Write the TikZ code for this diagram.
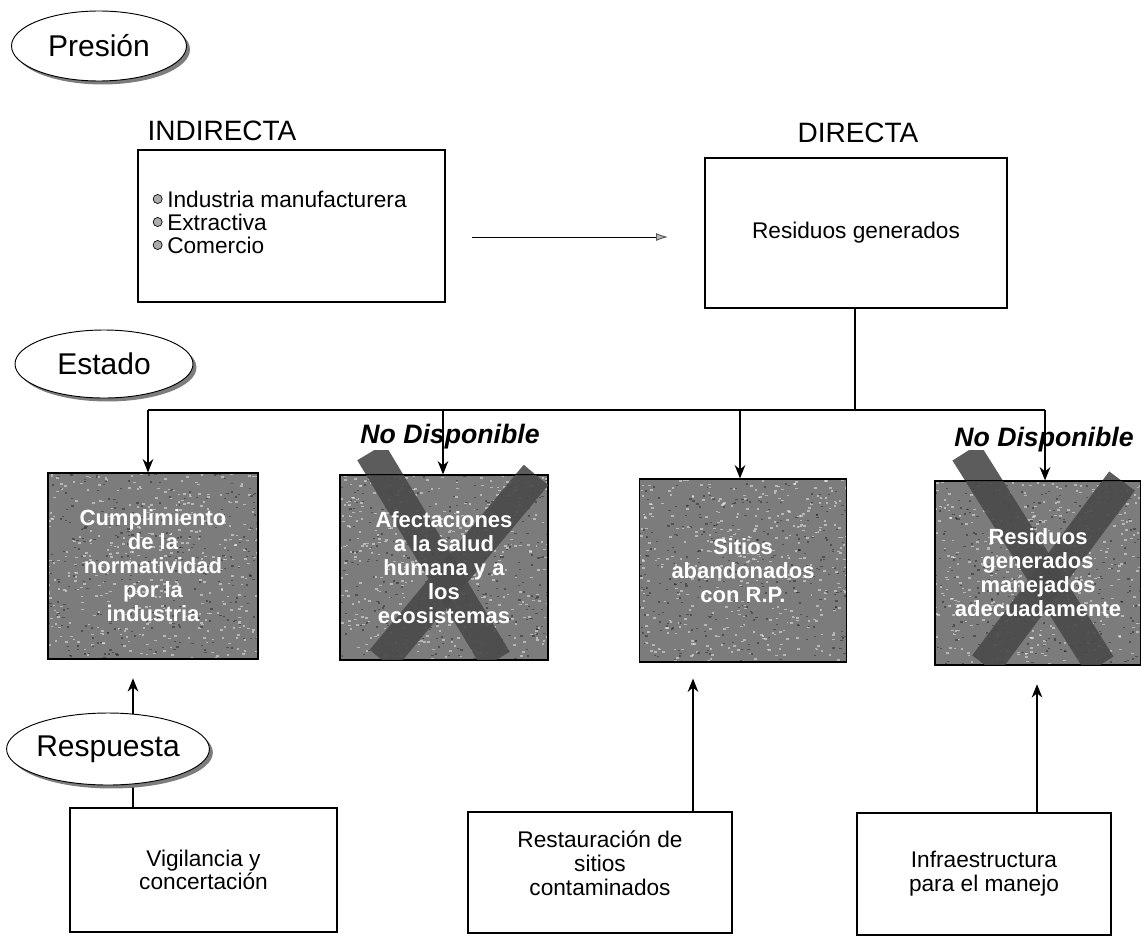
\documentclass[tikz,border=0pt]{standalone}
\usepackage{fontspec}
\setmainfont{Liberation Sans}
\usetikzlibrary{shapes.geometric,shadows,arrows.meta,calc}
\definecolor{cellgray}{RGB}{124,124,124}
\definecolor{bandgray}{RGB}{74,74,74}
\definecolor{shadowgray}{RGB}{125,125,125}
\pgfmathsetseed{4711}
\tikzset{
  sz/.style 2 args={minimum width=#1*0.75pt, minimum height=#2*0.75pt},
  frame/.style={draw=black, line width=0.9pt, fill=white, inner sep=0pt, align=center,
                font=\fontsize{17}{17.8}\selectfont},
  boxtext/.style={inner sep=0pt, align=center, font=\fontsize{17}{17.8}\selectfont},
  % grainy grey fill of the state cells
  grain/.style={path picture={
      \foreach \k in {1,...,420}{
        \pgfmathsetmacro\gx{rand*106}\pgfmathsetmacro\gy{rand*94}
        \fill[white, opacity=.45] ([shift={(\gx,\gy)}]path picture bounding box.center) rectangle ++(2.6,1.6);
      }
      \foreach \k in {1,...,320}{
        \pgfmathsetmacro\gx{rand*106}\pgfmathsetmacro\gy{rand*94}
        \fill[black, opacity=.35] ([shift={(\gx,\gy)}]path picture bounding box.center) rectangle ++(2.2,1.4);
      }
  }},
  cell/.style={draw=black, line width=0.9pt, fill=cellgray, inner sep=0pt, grain},
  celltext/.style={text=white, align=center, inner sep=0pt,
                   font=\bfseries\fontsize{16.5}{18}\selectfont},
  tag/.style={ellipse, draw=black, line width=0.7pt, fill=white, inner sep=0pt,
              font=\fontsize{22.5}{26}\selectfont,
              drop shadow={shadow xshift=2.6pt, shadow yshift=-2.6pt, fill=shadowgray, opacity=1}},
  head/.style={inner sep=0pt, font=\fontsize{21}{24}\selectfont},
  na/.style={inner sep=0pt, font=\bfseries\itshape\fontsize{20}{24}\selectfont},
  link/.style={draw=black, line width=0.9pt},
  arr/.style={link, -{Stealth[length=10pt, width=8pt]}},
  xband/.style={draw=bandgray, line width=24pt, line cap=butt, opacity=.9},
  item/.style={anchor=west, inner sep=0pt, font=\fontsize{17}{18}\selectfont},
  dot/.style={draw=black, line width=0.5pt, fill=gray!65},
}
\begin{document}
\begin{tikzpicture}[x=0.75pt, y=-0.75pt]
\useasboundingbox (0,0) rectangle (1141,935);

% --- Presion level -------------------------------------------------
\node[tag, sz={175}{70}] (pres) at (99,46) {Presión};
\node[head] (hind) at (222,131) {INDIRECTA};
\node[head] (hdir) at (858,133) {DIRECTA};

\node[frame, sz={307}{152}] (ind) at (291.5,226) {};
\node[item] (i1) at (167,199) {Industria manufacturera};
\node[item] (i2) at (167,222) {Extractiva};
\node[item] (i3) at (167,245) {Comercio};
\foreach \i in {i1,i2,i3} \path[dot] ([xshift=-7pt]\i.west) circle[radius=3.4pt];

\node[frame, sz={302}{150}] (dir) at (856,233) {Residuos generados};

\coordinate (a0) at (472,237);
\coordinate (a1) at (668,237);
\draw[line width=0.7pt, -{Latex[length=9pt, width=6pt, color=gray!70!black, fill=gray!55]}] (a0) -- (a1);

% --- Estado level --------------------------------------------------
\node[tag, sz={178}{68}] (est) at (104,364) {Estado};

\node[cell, sz={210}{186}] (b1) at (153,566) {};
\node[cell, sz={208}{185}] (b2) at (444,567.5) {};
\node[cell, sz={207}{183}] (b3) at (743,570.5) {};
\node[cell, sz={206}{184}] (b4) at (1038,573) {};

% crossed-out cells
\begin{scope}
  \clip (340,450) rectangle (548,660);
  \draw[xband] (371,452) -- (496,660);
  \draw[xband] (536,475) -- (382,660);
\end{scope}
\begin{scope}
  \clip (935,450) rectangle (1141,665);
  \draw[xband] (966,452) -- (1100,665);
  \draw[xband] (1122,481) -- (985,665);
\end{scope}
\draw[link] (b2.north west) rectangle (b2.south east);
\draw[link] (b4.north west) rectangle (b4.south east);

\node[celltext] (t1) at (b1) {Cumplimiento\\de la\\normatividad\\por la\\industria};
\node[celltext] (t2) at (b2) {Afectaciones\\a la salud\\humana y a\\los\\ecosistemas};
\node[celltext] (t3) at (b3) {Sitios\\abandonados\\con R.P.};
\node[celltext] (t4) at (b4) {Residuos\\generados\\manejados\\adecuadamente};

\node[na] (n2) at (450,437) {No Disponible};
\node[na] (n4) at (1044,440) {No Disponible};

% distribution from the DIRECTA box
\coordinate (hub) at (855,410);
\coordinate (d1) at (148,410);
\coordinate (d2) at (443,410);
\coordinate (d3) at (740,410);
\coordinate (d4) at (1045,410);
\draw[link] (dir.south -| hub) -- (hub);
\draw[link] (d1) -- (d4);
\draw[arr] (d1) -- (d1 |- b1.north);
\draw[arr] (d2) -- (d2 |- b2.north);
\draw[arr] (d3) -- (d3 |- b3.north);
\draw[arr] (d4) -- (d4 |- b4.north);

% --- Respuesta level -----------------------------------------------
\node[frame, sz={267}{124}] (vig) at (203.5,870) {Vigilancia y\\concertación};
\node[frame, sz={264}{121}] (rest) at (600,872.5) {};
\node[boxtext] (restt) at ([yshift=7pt]rest.center) {Restauración de\\sitios\\contaminados};
\node[frame, sz={254}{122}] (infra) at (984,874) {Infraestructura\\para el manejo};

\coordinate (u1) at (133,0);
\coordinate (u3) at (693,0);
\coordinate (u4) at (1037,0);
\draw[arr, shorten >=14pt] (vig.north -| u1) -- (b1.south -| u1);
\draw[arr, shorten >=12pt] (rest.north -| u3) -- (b3.south -| u3);
\draw[arr, shorten >=14pt] (infra.north -| u4) -- (b4.south -| u4);

\node[tag, sz={198}{72}] (resp) at (108,749) {Respuesta};
\end{tikzpicture}
\end{document}
